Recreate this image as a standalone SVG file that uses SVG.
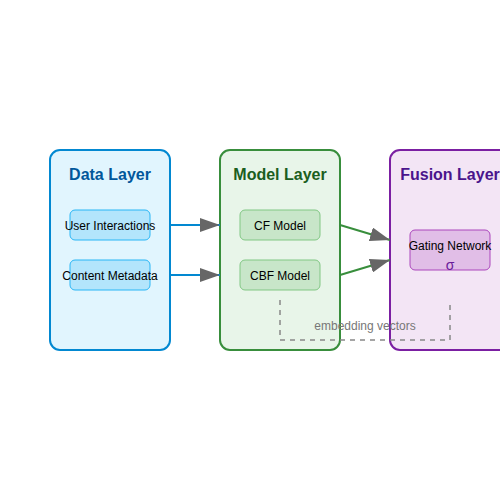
<svg xmlns="http://www.w3.org/2000/svg" width="500" height="500" viewBox="0 0 500 500">
<style>
text{font-family:"Liberation Sans",Arial,sans-serif;text-anchor:middle}
.title{font-size:16px;font-weight:bold}
.lbl{font-size:12px;fill:#000}
.layer{stroke-width:2}
.item{stroke-width:1}
</style>
<defs>
<marker id="ah" markerWidth="10" markerHeight="7" refX="10" refY="3.5" orient="auto">
<polygon points="0 0,10 3.5,0 7" fill="#666"/>
</marker>
</defs>
<rect width="500" height="500" fill="#fff"/>
<g id="data-layer">
<rect class="layer" x="50" y="150" width="120" height="200" rx="10" fill="#e1f5fe" stroke="#0288d1"/>
<text class="title" x="110" y="180" fill="#01579b">Data Layer</text>
</g>
<g id="user-interactions">
<rect class="item" x="70" y="210" width="80" height="30" rx="5" fill="#b3e5fc" stroke="#29b6f6"/>
<text class="lbl" x="110" y="230">User Interactions</text>
</g>
<g id="content-metadata">
<rect class="item" x="70" y="260" width="80" height="30" rx="5" fill="#b3e5fc" stroke="#29b6f6"/>
<text class="lbl" x="110" y="280">Content Metadata</text>
</g>
<g id="model-layer">
<rect class="layer" x="220" y="150" width="120" height="200" rx="10" fill="#e8f5e9" stroke="#388e3c"/>
<text class="title" x="280" y="180" fill="#1b5e20">Model Layer</text>
</g>
<g id="cf-model">
<rect class="item" x="240" y="210" width="80" height="30" rx="5" fill="#c8e6c9" stroke="#81c784"/>
<text class="lbl" x="280" y="230">CF Model</text>
</g>
<g id="cbf-model">
<rect class="item" x="240" y="260" width="80" height="30" rx="5" fill="#c8e6c9" stroke="#81c784"/>
<text class="lbl" x="280" y="280">CBF Model</text>
</g>
<g id="fusion-layer">
<rect class="layer" x="390" y="150" width="120" height="200" rx="10" fill="#f3e5f5" stroke="#7b1fa2"/>
<text class="title" x="450" y="180" fill="#4a148c">Fusion Layer</text>
</g>
<g id="gating-network">
<rect class="item" x="410" y="230" width="80" height="40" rx="5" fill="#e1bee7" stroke="#ab47bc"/>
<text class="lbl" x="450" y="250">Gating Network</text>
<text x="450" y="270" font-size="14" fill="#6a1b9a">σ</text>
</g>
<g id="connectors" fill="none" stroke-width="2">
<line x1="170" y1="225" x2="220" y2="225" stroke="#0288d1" marker-end="url(#ah)"/>
<line x1="170" y1="275" x2="220" y2="275" stroke="#0288d1" marker-end="url(#ah)"/>
<line x1="340" y1="225" x2="390" y2="240" stroke="#388e3c" marker-end="url(#ah)"/>
<line x1="340" y1="275" x2="390" y2="260" stroke="#388e3c" marker-end="url(#ah)"/>
<path d="M280 300V340H450V305" stroke="#888" stroke-width="1.5" stroke-dasharray="5,5"/>
<text x="365" y="330" font-size="12" fill="#777" stroke="none">embedding vectors</text>
</g>
</svg>
